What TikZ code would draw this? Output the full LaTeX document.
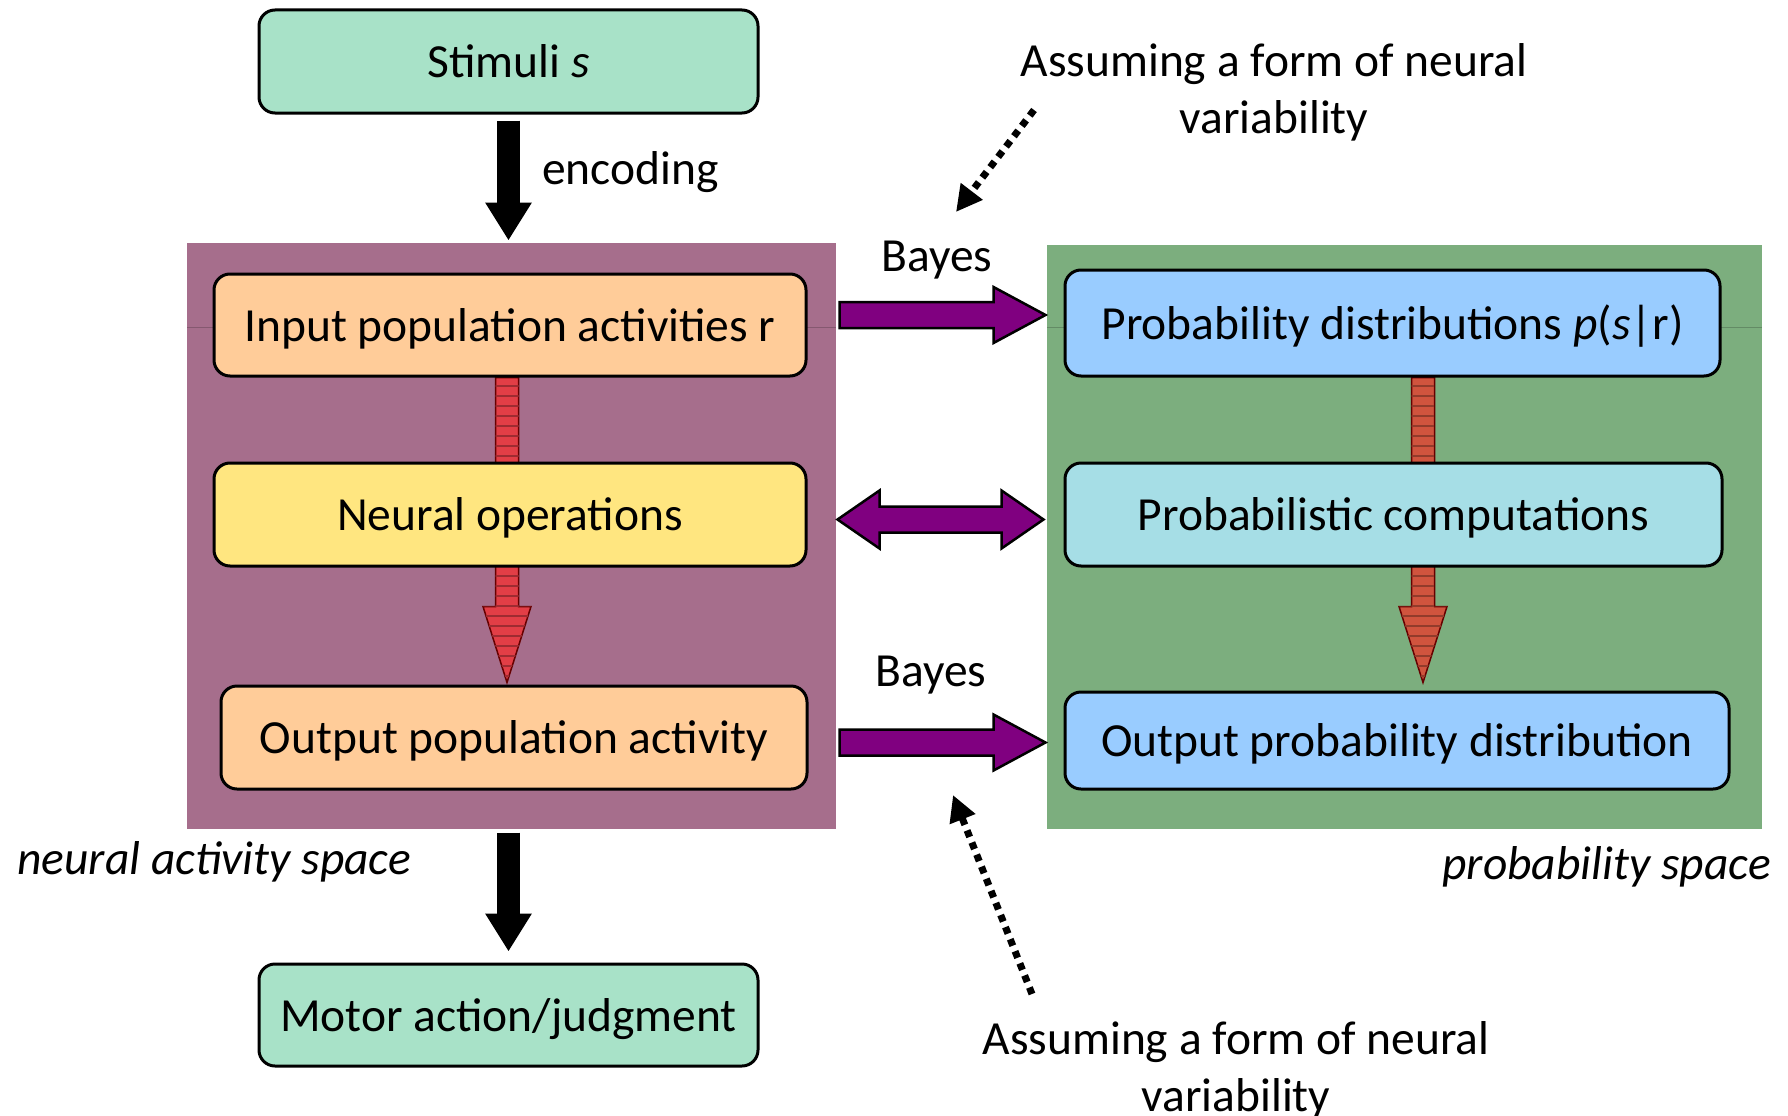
\documentclass[tikz,border=0pt]{standalone}
\usepackage{fontspec}
\setmainfont{Carlito}
\usetikzlibrary{calc,arrows.meta,patterns.meta}
\definecolor{bgpurple}{RGB}{166,110,140}
\definecolor{bggreen}{RGB}{124,174,126}
\definecolor{cmint}{RGB}{168,226,200}
\definecolor{cpeach}{RGB}{255,204,153}
\definecolor{cyellow}{RGB}{255,230,128}
\definecolor{cblue}{RGB}{153,204,255}
\definecolor{ccyan}{RGB}{166,222,230}
\definecolor{cviolet}{RGB}{128,0,128}
\definecolor{cred}{RGB}{226,62,70}
\definecolor{cred2}{RGB}{208,84,62}
\pgfdeclarelayer{bg}
\pgfsetlayers{bg,main}
\tikzset{
  box/.style={draw=black, line width=3pt, rounded corners=16pt, align=center,
    font=\fontsize{47.5}{57}\selectfont, inner sep=0pt, text height=40pt, text depth=8pt},
  lbl/.style={font=\fontsize{47.5}{57}\selectfont, align=center, inner sep=0pt},
  blockv/.style={fill=cviolet, draw=black, line width=2.5pt, line join=miter},
  blockr/.style={draw=black!60!red, line width=1.5pt},
  blackarrow/.style={line width=23pt, -{Triangle[width=44pt,length=38pt]}},
  dotarrow/.style={line width=7pt, dash pattern=on 7pt off 6pt,
    -{Triangle[width=26pt,length=26pt]}},
}
\begin{document}
\begin{tikzpicture}[x=1pt,y=-1pt]
\useasboundingbox (0,0) rectangle (1788,1116);

% nodes
\node[box, fill=cmint, minimum width=499pt, minimum height=103pt] (stim) at (508.5,61.5) {Stimuli \textit{s}};
\node[box, fill=cpeach, minimum width=592pt, minimum height=102pt] (in) at (510,325) {Input population activities r};
\node[box, fill=cyellow, minimum width=592pt, minimum height=103pt] (neu) at (510,514.5) {Neural operations};
\node[box, fill=cpeach, minimum width=586pt, minimum height=103pt] (outp) at (514,737.5) {Output population activity};
\node[box, fill=cmint, minimum width=499pt, minimum height=102pt] (mot) at (508.5,1015) {Motor action/judgment};
\node[box, fill=cblue, minimum width=655pt, minimum height=106pt] (pd) at (1392.5,323) {Probability distributions \textit{p}(\textit{s}|r)};
\node[box, fill=ccyan, minimum width=657pt, minimum height=103pt] (pc) at (1393.5,514.5) {Probabilistic computations};
\node[box, fill=cblue, minimum width=664pt, minimum height=97pt] (opd) at (1397,740.5) {Output probability distribution};

\begin{pgfonlayer}{bg}
% backgrounds
\fill[bgpurple] (187,243) rectangle (836,829);
\fill[bggreen] (1047,245) rectangle (1762,829);
\draw[bgpurple!80!black, line width=0.8pt] (187,327) -- (836,327);
\draw[bggreen!80!black, line width=0.8pt] (1047,327) -- (1762,327);
% red arrows behind the middle boxes
\coordinate (rl1) at ($(in.south)+(-3,0)$);
\coordinate (rl2) at ($(outp.north)+(-7,-2)$);
\coordinate (rr1) at ($(pd.south)+(30,0)$);
\coordinate (rr2) at ($(opd.north)+(26,-8)$);
\foreach \a/\b/\c in {rl1/rl2/cred, rr1/rr2/cred2}{
  \path[blockr, fill=\c, postaction={pattern={Lines[angle=0,distance=10pt,line width=1.2pt]}, pattern color=\c!70!black}]
    ($(\a)+(-11.5,0)$) -- ($(\b|-\a)+(-11.5,0)$) -- ($(\b)+(-11.5,-76)$)
    -- ($(\b)+(-24,-76)$) -- (\b) -- ($(\b)+(24,-76)$) -- ($(\b)+(11.5,-76)$)
    -- ($(\b|-\a)+(11.5,0)$) -- cycle;
}
\end{pgfonlayer}

% labels
\node[lbl, anchor=west] (enc) at (542,172.5) {encoding};
\node[lbl] (bay1) at (937,260.5) {Bayes};
\node[lbl] (bay2) at (931,675.5) {Bayes};
\node[lbl, anchor=west, font=\fontsize{47.5}{57}\selectfont\itshape] (nas) at (17,861.5) {neural activity space};
\node[lbl, anchor=east, font=\fontsize{47.5}{57}\selectfont\itshape] (ps) at (1771,866.5) {probability space};
\node[lbl] (note1) at (1274,92) {Assuming a form of neural\\variability};
\node[lbl] (note2) at (1236,1070) {Assuming a form of neural\\variability};

% black arrows
\draw[blackarrow] ($(stim.south)+(0,6)$) -- ($(stim.south)+(0,126)$);
\draw[blackarrow] ($(mot.north)+(0,-130)$) -- ($(mot.north)+(0,-11)$);

% purple arrows
\coordinate (p1a) at ($(in.east)+(32,-10)$);
\coordinate (p1b) at ($(pd.west)+(-18,-8)$);
\fill[blockv] ($(p1a)+(0,-13)$) -- ($(p1b)+(-52,-13)$) -- ($(p1b)+(-52,-28)$) -- (p1b)
  -- ($(p1b)+(-52,28)$) -- ($(p1b)+(-52,13)$) -- ($(p1a)+(0,13)$) -- cycle;
\coordinate (p3a) at ($(outp.east)+(31,5)$);
\coordinate (p3b) at ($(opd.west)+(-18,2)$);
\fill[blockv] ($(p3a)+(0,-13)$) -- ($(p3b)+(-52,-13)$) -- ($(p3b)+(-52,-28)$) -- (p3b)
  -- ($(p3b)+(-52,28)$) -- ($(p3b)+(-52,13)$) -- ($(p3a)+(0,13)$) -- cycle;
\coordinate (p2a) at ($(neu.east)+(30,5)$);
\coordinate (p2b) at ($(pc.west)+(-20,5)$);
\fill[blockv] (p2a) -- ($(p2a)+(42,-29)$) -- ($(p2a)+(42,-13)$) -- ($(p2b)+(-42,-13)$)
  -- ($(p2b)+(-42,-29)$) -- (p2b) -- ($(p2b)+(-42,29)$) -- ($(p2b)+(-42,13)$)
  -- ($(p2a)+(42,13)$) -- ($(p2a)+(42,29)$) -- cycle;

% dotted arrows
\coordinate (d1s) at (1034,110);
\coordinate (d1e) at (956,212);
\coordinate (d2s) at (1032,994);
\coordinate (d2e) at (953,795);
\draw[dotarrow] (d1s) -- (d1e);
\draw[dotarrow] (d2s) -- (d2e);
\end{tikzpicture}
\end{document}
